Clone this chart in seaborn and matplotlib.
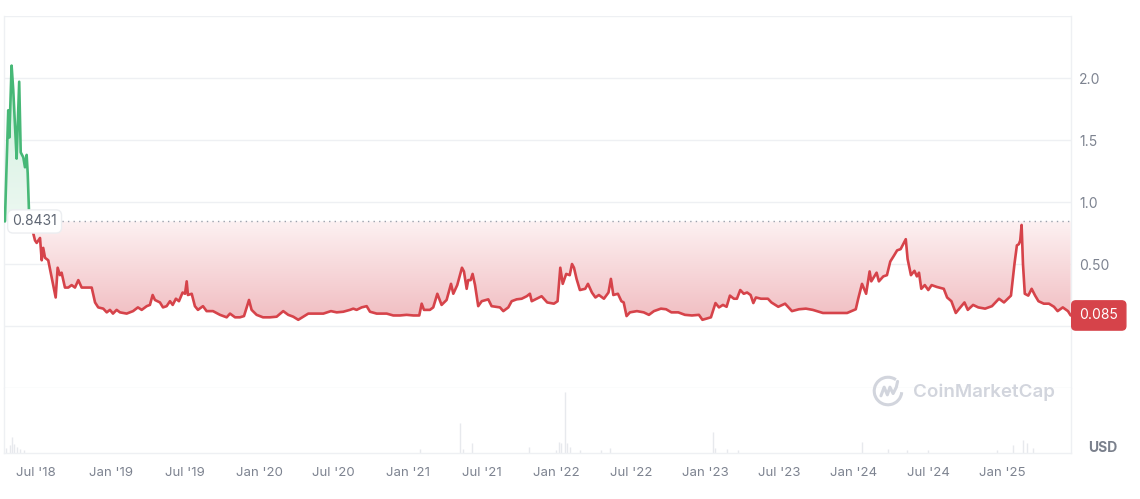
import numpy as np
import pandas as pd
import matplotlib
matplotlib.use("Agg")
import matplotlib.pyplot as plt
import seaborn as sns
from matplotlib.path import Path
from matplotlib.patches import Arc

# ---------------- data ----------------
years = [2018.293, 2018.309, 2018.315, 2018.322, 2018.337, 2018.348, 2018.364, 2018.370, 2018.387, 2018.397,
         2018.414, 2018.425, 2018.436, 2018.443, 2018.451, 2018.471, 2018.491, 2018.502, 2018.524, 2018.535,
         2018.545, 2018.557, 2018.578, 2018.601, 2018.627, 2018.640, 2018.655, 2018.666, 2018.688, 2018.710,
         2018.732, 2018.754, 2018.776, 2018.798, 2018.831, 2018.864, 2018.886, 2018.907, 2018.940, 2018.963,
         2018.984, 2019.004, 2019.028, 2019.050, 2019.094, 2019.136, 2019.168, 2019.193, 2019.226, 2019.247,
         2019.265, 2019.280, 2019.313, 2019.333, 2019.357, 2019.379, 2019.397, 2019.418, 2019.438, 2019.462,
         2019.478, 2019.489, 2019.497, 2019.522, 2019.543, 2019.563, 2019.596, 2019.620, 2019.662, 2019.708,
         2019.752, 2019.774, 2019.807, 2019.839, 2019.866, 2019.899, 2019.916, 2019.949, 2019.991, 2020.037,
         2020.081, 2020.124, 2020.157, 2020.190, 2020.223, 2020.256, 2020.289, 2020.344, 2020.388, 2020.438,
         2020.476, 2020.519, 2020.563, 2020.585, 2020.607, 2020.640, 2020.673, 2020.695, 2020.739, 2020.805,
         2020.848, 2020.892, 2020.936, 2020.980, 2021.019, 2021.035, 2021.050, 2021.089, 2021.111, 2021.138,
         2021.166, 2021.199, 2021.228, 2021.243, 2021.269, 2021.300, 2021.313, 2021.331, 2021.341, 2021.357,
         2021.370, 2021.386, 2021.407, 2021.430, 2021.473, 2021.495, 2021.550, 2021.572, 2021.605, 2021.627,
         2021.660, 2021.693, 2021.726, 2021.747, 2021.759, 2021.791, 2021.824, 2021.861, 2021.905, 2021.929,
         2021.947, 2021.963, 2021.986, 2022.009, 2022.024, 2022.037, 2022.054, 2022.076, 2022.111, 2022.129,
         2022.155, 2022.178, 2022.201, 2022.234, 2022.264, 2022.280, 2022.296, 2022.326, 2022.349, 2022.364,
         2022.383, 2022.405, 2022.451, 2022.496, 2022.530, 2022.563, 2022.609, 2022.643, 2022.678, 2022.723,
         2022.767, 2022.813, 2022.859, 2022.882, 2022.938, 2022.968, 2022.991, 2023.017, 2023.041, 2023.063,
         2023.089, 2023.109, 2023.131, 2023.154, 2023.176, 2023.199, 2023.217, 2023.234, 2023.267, 2023.313,
         2023.336, 2023.381, 2023.426, 2023.471, 2023.517, 2023.563, 2023.608, 2023.675, 2023.743, 2023.789,
         2023.834, 2023.891, 2023.907, 2023.932, 2023.959, 2023.982, 2023.993, 2024.028, 2024.043, 2024.072,
         2024.096, 2024.118, 2024.141, 2024.163, 2024.186, 2024.220, 2024.232, 2024.254, 2024.277, 2024.293,
         2024.307, 2024.322, 2024.345, 2024.368, 2024.390, 2024.424, 2024.470, 2024.492, 2024.520, 2024.549,
         2024.572, 2024.606, 2024.628, 2024.663, 2024.697, 2024.742, 2024.787, 2024.833, 2024.866, 2024.912,
         2024.935, 2024.951, 2024.964, 2024.973, 2024.982, 2024.991, 2025.003, 2025.026, 2025.048, 2025.071,
         2025.093, 2025.128, 2025.162, 2025.195, 2025.219, 2025.253, 2025.287, 2025.305]
prices = [0.8431, 1.50, 1.74, 1.52, 2.10, 1.90, 1.50, 1.35, 1.97, 1.40,
          1.36, 1.28, 1.38, 1.23, 0.94, 0.79, 0.69, 0.67, 0.71, 0.53,
          0.63, 0.55, 0.53, 0.39, 0.23, 0.47, 0.41, 0.43, 0.31, 0.31,
          0.33, 0.31, 0.37, 0.31, 0.31, 0.31, 0.19, 0.15, 0.14, 0.11,
          0.13, 0.10, 0.13, 0.11, 0.10, 0.12, 0.15, 0.13, 0.16, 0.17,
          0.25, 0.21, 0.19, 0.15, 0.16, 0.20, 0.17, 0.22, 0.20, 0.27,
          0.26, 0.36, 0.25, 0.26, 0.16, 0.13, 0.16, 0.12, 0.12, 0.09,
          0.07, 0.10, 0.07, 0.07, 0.08, 0.21, 0.13, 0.09, 0.07, 0.07,
          0.075, 0.12, 0.09, 0.075, 0.05, 0.075, 0.10, 0.10, 0.10, 0.12,
          0.11, 0.115, 0.13, 0.14, 0.13, 0.15, 0.16, 0.115, 0.10, 0.10,
          0.085, 0.085, 0.09, 0.085, 0.085, 0.18, 0.13, 0.13, 0.15, 0.26,
          0.17, 0.21, 0.34, 0.26, 0.33, 0.47, 0.44, 0.30, 0.37, 0.37,
          0.42, 0.33, 0.16, 0.20, 0.215, 0.16, 0.15, 0.12, 0.15, 0.20,
          0.215, 0.22, 0.24, 0.26, 0.20, 0.22, 0.24, 0.19, 0.18, 0.20,
          0.47, 0.34, 0.42, 0.41, 0.50, 0.47, 0.38, 0.29, 0.30, 0.34,
          0.27, 0.23, 0.25, 0.22, 0.27, 0.38, 0.25, 0.26, 0.20, 0.19,
          0.08, 0.11, 0.12, 0.11, 0.09, 0.12, 0.14, 0.135, 0.11, 0.11,
          0.09, 0.085, 0.09, 0.05, 0.07, 0.185, 0.15, 0.17, 0.155, 0.245,
          0.22, 0.22, 0.29, 0.26, 0.27, 0.25, 0.185, 0.23, 0.22, 0.22,
          0.19, 0.155, 0.18, 0.12, 0.135, 0.14, 0.13, 0.105, 0.105, 0.105,
          0.105, 0.135, 0.22, 0.34, 0.26, 0.44, 0.36, 0.43, 0.36, 0.40,
          0.41, 0.52, 0.565, 0.61, 0.62, 0.70, 0.54, 0.41, 0.445, 0.40,
          0.43, 0.30, 0.33, 0.29, 0.33, 0.315, 0.30, 0.23, 0.20, 0.105,
          0.14, 0.19, 0.13, 0.17, 0.15, 0.14, 0.16, 0.22, 0.19, 0.245,
          0.50, 0.65, 0.66, 0.69, 0.815, 0.50, 0.26, 0.245, 0.30, 0.245,
          0.20, 0.18, 0.18, 0.155, 0.12, 0.15, 0.12, 0.085]

vol_years = [2018.300, 2018.326, 2018.339, 2018.353, 2018.372, 2018.392, 2018.418,
             2021.024, 2021.287, 2021.307, 2021.366, 2021.741, 2021.918, 2021.938, 2021.951,
             2021.978, 2021.991, 2022.010, 2022.076, 2022.214, 2022.274, 2022.951, 2022.965,
             2023.043, 2023.116, 2023.932, 2024.102, 2024.228, 2024.366, 2024.820, 2024.925,
             2024.991, 2025.017, 2025.056]
vol_values = [5, 8, 16, 9, 6, 4, 3,
              4, 30, 4, 10, 6, 3, 11, 10,
              61, 10, 6, 3, 3, 5, 21, 5,
              4, 3, 11, 4, 3, 3, 3, 8,
              13, 10, 5]

tick_years = [2018.500, 2018.989, 2019.478, 2019.966, 2020.455, 2020.944, 2021.433,
              2021.922, 2022.411, 2022.899, 2023.388, 2023.877, 2024.366, 2024.855]
tick_labels = ["Jul '18", "Jan '19", "Jul '19", "Jan '20", "Jul '20", "Jan '21", "Jul '21",
               "Jan '22", "Jul '22", "Jan '23", "Jul '23", "Jan '24", "Jul '24", "Jan '25"]
grid_vals = [-0.5, 0.0, 0.5, 1.0, 1.5, 2.0, 2.5]
ytick_vals = [0.5, 1.0, 1.5, 2.0]
ytick_labels = ["0.50", "1.0", "1.5", "2.0"]
base_price = 0.8431
last_price = 0.085

# ---------------- style ----------------
sns.set_theme(style="white")
plt.rcParams['font.family'] = ['Inter', 'DejaVu Sans']

RED = "#d6434a"
GREEN = "#47b877"
GRID = "#eef0f3"
TXT = "#7d8390"

W, H = 1140, 499
fig = plt.figure(figsize=(W / 100, H / 100), dpi=100)

def fx(px):
    return px / W

def fy(py):
    return 1 - py / H

L, R = 4, 1071
ax = fig.add_axes([fx(L), fy(388), fx(R - L), fy(16) - fy(388)])
axv = fig.add_axes([fx(L), fy(453), fx(R - L), fy(388) - fy(453)])

xmin, xmax = 2018.287, 2025.307
xs = np.array(years)
ys = np.array(prices)

# split into above/below segments with interpolated crossings
above = ys >= base_price
sx, sy, sid, sdir = [], [], [], []
cur = 0
for i in range(len(xs)):
    if i > 0 and above[i] != above[i - 1]:
        t = (base_price - ys[i - 1]) / (ys[i] - ys[i - 1])
        xc = xs[i - 1] + t * (xs[i] - xs[i - 1])
        sx.append(xc); sy.append(base_price); sid.append(cur); sdir.append("up" if above[i - 1] else "down")
        cur += 1
        sx.append(xc); sy.append(base_price); sid.append(cur); sdir.append("up" if above[i] else "down")
    sx.append(xs[i]); sy.append(ys[i]); sid.append(cur); sdir.append("up" if above[i] else "down")
df = pd.DataFrame({"year": sx, "price": sy, "seg": sid, "dir": sdir})

# gridlines
for g in grid_vals:
    ax.axhline(g, color=GRID, lw=1, zorder=0)

# green gradient fill (above baseline)
gpoly = ax.fill_between(df["year"], df["price"], base_price, where=df["price"] >= base_price,
                        interpolate=True, facecolor="none", lw=0, zorder=1)
gclip = Path.make_compound_path(*gpoly.get_paths())
n = 256
frac = np.linspace(0, 1, n)[:, None]
g_lo = np.array([236, 248, 241]) / 255
g_hi = np.array([205, 238, 219]) / 255
ggrad = np.ones((n, 1, 4))
ggrad[:, 0, :3] = g_lo * (1 - frac) + g_hi * frac
gim = ax.imshow(ggrad, extent=[xmin, xmax, base_price, 2.2], origin="lower",
                aspect="auto", zorder=1, interpolation="bilinear")
gim.set_clip_path(gclip, transform=ax.transData)

# red gradient fill (below baseline)
poly = ax.fill_between(df["year"], df["price"], base_price, where=df["price"] <= base_price,
                       interpolate=True, facecolor="none", lw=0, zorder=1)
clip = Path.make_compound_path(*poly.get_paths())
top = np.array([253, 241, 242]) / 255
bot = np.array([240, 186, 190]) / 255
grad = np.ones((n, 1, 4))
grad[:, 0, :3] = bot * (1 - frac) + top * frac
im = ax.imshow(grad, extent=[xmin, xmax, 0, base_price], origin="lower",
               aspect="auto", zorder=1, interpolation="bilinear")
im.set_clip_path(clip, transform=ax.transData)

# price line
sns.lineplot(data=df, x="year", y="price", hue="dir", units="seg", estimator=None,
             sort=False, palette={"up": GREEN, "down": RED}, linewidth=1.9,
             legend=False, ax=ax, zorder=3, solid_joinstyle="round")

# baseline dotted
ax.plot([2018.68 - 0.27, xmax], [base_price, base_price], color="#9aa1ac",
        lw=1.0, ls=(0, (1, 3)), zorder=2)

ax.set_xlim(xmin, xmax)
ax.set_ylim(-0.5, 2.5)
ax.set_xticks([])
ax.yaxis.tick_right()
ax.set_yticks(ytick_vals)
ax.set_yticklabels(ytick_labels)
ax.tick_params(axis="y", length=0, pad=6, labelsize=10, labelcolor=TXT)
ax.set_xlabel("")
ax.set_ylabel("")
for s in ["top", "bottom"]:
    ax.spines[s].set_visible(False)
for s in ["left", "right"]:
    ax.spines[s].set_color(GRID)
    ax.spines[s].set_linewidth(1)

# baseline label
ax.text(2018.341, base_price, "0.8431", fontsize=10, color="#5f6673", va="center", ha="left",
        zorder=6, bbox=dict(boxstyle="round,pad=0.33,rounding_size=0.4", fc="white", ec="#eceef1", lw=1))

# last price label
ax.annotate("0.085", xy=(1.0, last_price), xycoords=("axes fraction", "data"),
            xytext=(6, 0), textcoords="offset points", fontsize=10, color="white",
            va="center", ha="left", annotation_clip=False, zorder=6,
            bbox=dict(boxstyle="round,pad=0.55,rounding_size=0.3", fc=RED, ec=RED))

# volume
axv.vlines(vol_years, 0, vol_values, color="#e7e9ed", lw=1.0)
axv.set_xlim(xmin, xmax)
axv.set_ylim(0, 65)
axv.set_yticks([])
axv.set_xticks(tick_years)
axv.set_xticklabels(tick_labels)
axv.tick_params(axis="x", length=0, pad=10, labelsize=9.5, labelcolor=TXT)
axv.set_xlabel("")
axv.set_ylabel("")
axv.spines["top"].set_visible(False)
for s in ["left", "right", "bottom"]:
    axv.spines[s].set_color(GRID)
    axv.spines[s].set_linewidth(1)

# USD
fig.text(fx(1103), fy(448), "USD", ha="center", va="center", fontsize=10,
         fontweight="bold", color="#7a808c")

# watermark
WM = "#d2d5dd"
fig.text(fx(913), fy(392), "CoinMarketCap", ha="left", va="center", fontsize=13.5,
         fontweight="semibold", color=WM)
lax = fig.add_axes([fx(872), fy(407), fx(32), fy(375) - fy(407)])
lax.set_xlim(0, 1); lax.set_ylim(0, 1); lax.axis("off")
lax.add_patch(Arc((0.5, 0.5), 0.86, 0.86, theta1=55, theta2=355, color=WM, lw=2.2))
lax.plot([0.28, 0.38, 0.48, 0.56, 0.66, 0.76, 0.80], [0.35, 0.62, 0.38, 0.62, 0.42, 0.62, 0.80],
         color=WM, lw=2.2, solid_capstyle="round", solid_joinstyle="round")

fig.savefig("out.png", dpi=100)
